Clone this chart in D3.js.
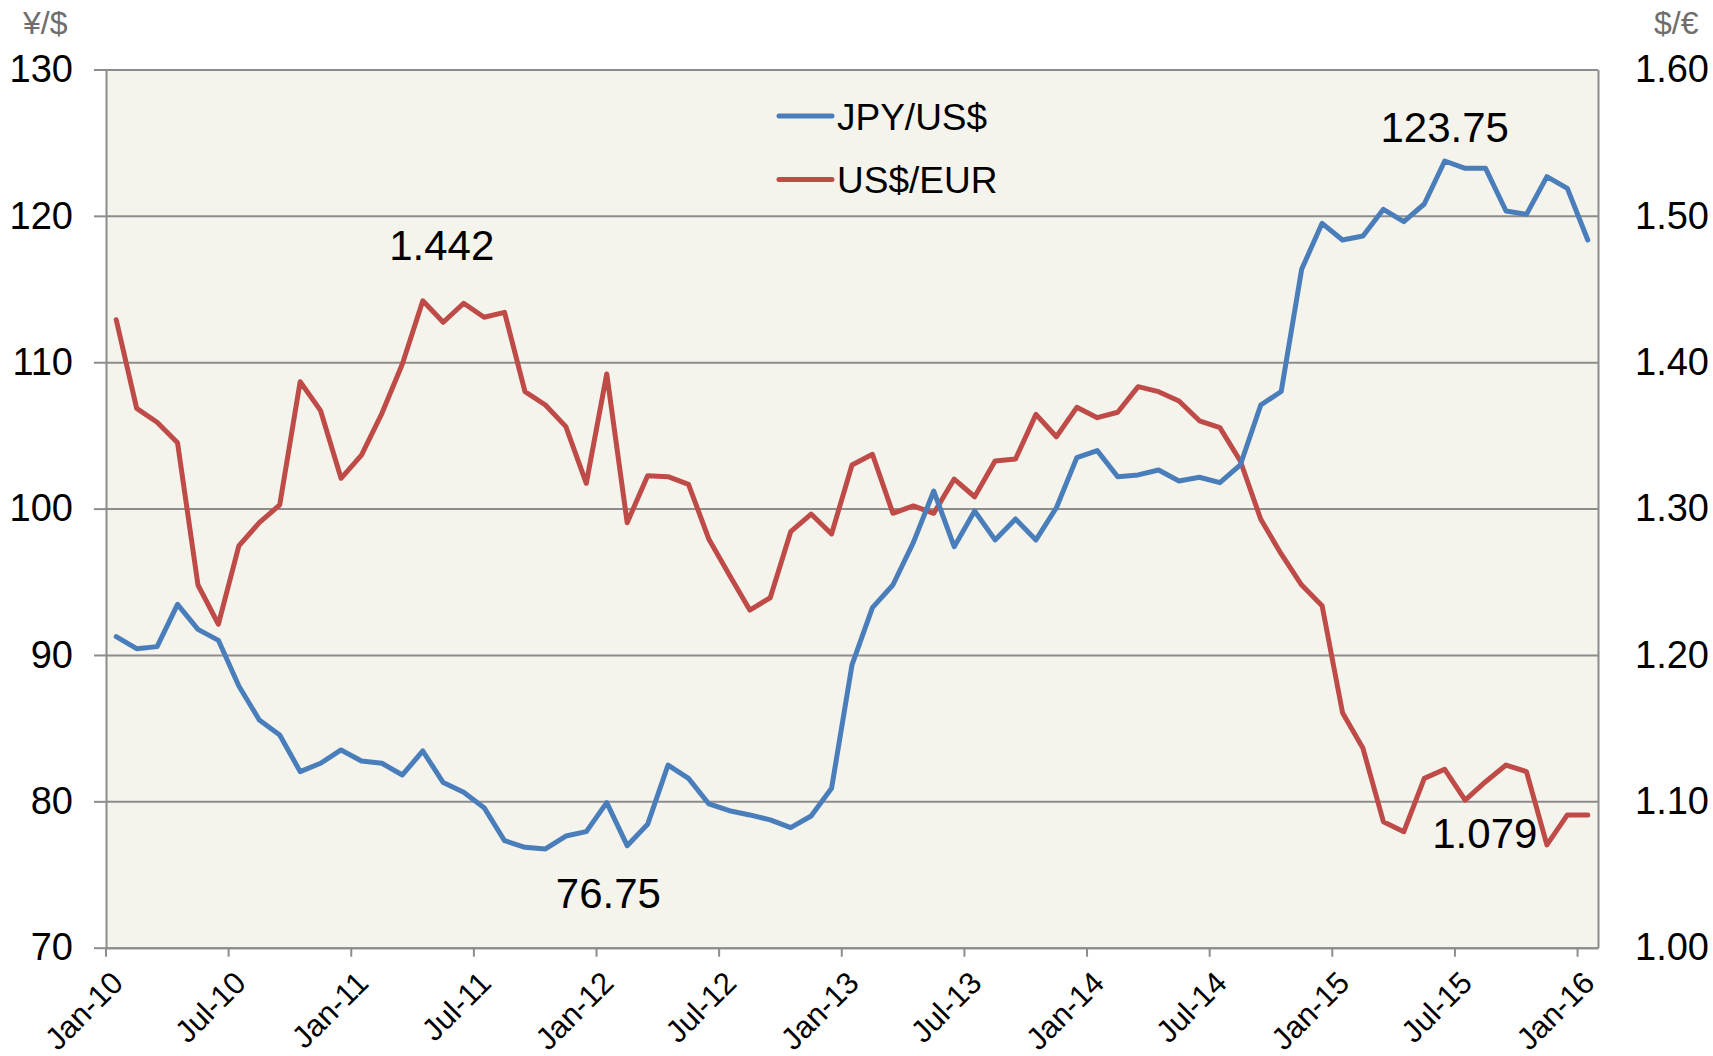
<!DOCTYPE html>
<html>
<head>
<meta charset="utf-8">
<script src="https://cdn.jsdelivr.net/npm/d3@7"></script>
<style>
  body { margin: 0; background: #fff; }
  svg text { font-family: "Liberation Sans", Arial, sans-serif; fill: #000; }
</style>
</head>
<body>
<svg id="chart" width="1713" height="1056"></svg>
<script>
// monthly categories Jan-2010 .. Jan-2016
var months = d3.timeMonth.range(new Date(2010, 0, 1), new Date(2016, 1, 1));
var tickLabels = ["Jan-10", "Jul-10", "Jan-11", "Jul-11", "Jan-12", "Jul-12", "Jan-13",
                  "Jul-13", "Jan-14", "Jul-14", "Jan-15", "Jul-15", "Jan-16"];
var leftTicks = [70, 80, 90, 100, 110, 120, 130];
var rightTicks = [1.00, 1.10, 1.20, 1.30, 1.40, 1.50, 1.60];

// JPY per US$
var jpy = [91.25, 90.43, 90.57, 93.46, 91.75, 91.0, 87.88, 85.56, 84.53, 82.03, 82.6, 83.51,
           82.76, 82.6, 81.8, 83.44, 81.28, 80.62, 79.57, 77.31, 76.86, 76.75, 77.63, 77.93,
           79.91, 76.97, 78.43, 82.48, 81.57, 79.82, 79.36, 79.07, 78.73, 78.2, 79.0, 80.89,
           89.32, 93.23, 94.78, 97.67, 101.2, 97.4, 99.84, 97.86, 99.29, 97.86, 100.06, 103.48,
           103.96, 102.18, 102.3, 102.64, 101.89, 102.14, 101.77, 102.98, 107.08, 108.0, 116.35, 119.49,
           118.35, 118.62, 120.45, 119.6, 120.81, 123.75, 123.25, 123.25, 120.33, 120.1, 122.68, 121.88,
           118.35];
// US$ per EUR
var eur = [1.429, 1.3685, 1.359, 1.345, 1.2478, 1.221, 1.2745, 1.2904, 1.3025, 1.3867, 1.3669, 1.3207,
           1.3366, 1.3651, 1.3988, 1.442, 1.4273, 1.4403, 1.4307, 1.4341, 1.3799, 1.3708, 1.356, 1.3173,
           1.392, 1.2904, 1.3225, 1.3218, 1.3166, 1.279, 1.2546, 1.2307, 1.2391, 1.2842, 1.2963, 1.2827,
           1.3298, 1.3371, 1.2968, 1.3018, 1.2968, 1.3202, 1.3081, 1.3325, 1.3339, 1.3644, 1.3491, 1.3692,
           1.3621, 1.3658, 1.3833, 1.3799, 1.3735, 1.36, 1.3553, 1.3325, 1.2927, 1.269, 1.2478, 1.2337,
           1.1606, 1.1362, 1.0861, 1.0793, 1.1157, 1.1219, 1.1009, 1.1134, 1.1248, 1.1203, 1.0702, 1.0907,
           1.0907];

var seriesNames = ["JPY/US$", "US$/EUR"];
var blue = "#4a7ebb", red = "#be4b48", gridColor = "#8c8c8c";

var svg = d3.select("#chart");
var plotL = 106, plotR = 1598, plotT = 69.5, plotB = 947.7;

var x = d3.scaleBand().domain(months).range([plotL, plotR]).padding(0);
var yL = d3.scaleLinear().domain([70, 130]).range([plotB, plotT]);
var yR = d3.scaleLinear().domain([1.0, 1.6]).range([plotB, plotT]);
var cx = function(i) { return x(months[i]) + x.bandwidth() / 2; };

// plot background
svg.append("rect")
  .attr("x", plotL).attr("y", plotT)
  .attr("width", plotR - plotL).attr("height", plotB - plotT)
  .attr("fill", "#f4f3ec");

// gridlines
var grid = svg.append("g").attr("transform", "translate(" + plotL + ",0)")
  .call(d3.axisLeft(yL).tickValues(leftTicks).tickSize(-(plotR - plotL)).tickFormat(""));
grid.select(".domain").remove();
grid.selectAll("line").attr("stroke", gridColor).attr("stroke-width", 2);

// left axis
var axL = svg.append("g").attr("transform", "translate(" + plotL + ",0)")
  .call(d3.axisLeft(yL).tickValues(leftTicks).tickSize(12).tickPadding(21).tickSizeOuter(0));
axL.select(".domain").attr("stroke", gridColor).attr("stroke-width", 2);
axL.selectAll("line").attr("stroke", gridColor).attr("stroke-width", 2);
axL.selectAll("text").attr("font-size", 38).attr("fill", "#000");

// right axis (labels only)
var axR = svg.append("g").attr("transform", "translate(" + plotR + ",0)")
  .call(d3.axisRight(yR).tickValues(rightTicks).tickSize(0).tickPadding(37).tickFormat(d3.format(".2f")));
axR.select(".domain").attr("stroke", gridColor).attr("stroke-width", 2);
axR.selectAll("text").attr("font-size", 38).attr("fill", "#000");

// bottom axis
var tickMonths = months.filter(function(d, i) { return i % 6 === 0; });
var axB = svg.append("g").attr("transform", "translate(0," + plotB + ")")
  .call(d3.axisBottom(x).tickValues(tickMonths).tickSize(9).tickSizeOuter(0)
    .tickFormat(function(d, i) { return tickLabels[i]; }));
axB.select(".domain").attr("stroke", gridColor).attr("stroke-width", 2);
axB.selectAll(".tick").attr("transform", function(d) { return "translate(" + x(d) + ",0)"; });
axB.selectAll("line").attr("stroke", gridColor).attr("stroke-width", 2);
axB.selectAll("text")
  .attr("font-size", 31)
  .attr("text-anchor", "end")
  .attr("dy", 0)
  .attr("y", 0)
  .attr("transform", "translate(19,37) rotate(-45)");

// axis unit labels
svg.append("text").attr("x", 23).attr("y", 34).attr("font-size", 32)
  .style("fill", "#6e6e6e").text("¥/$");
svg.append("text").attr("x", 1654).attr("y", 34).attr("font-size", 32)
  .style("fill", "#6e6e6e").text("$/€");

// lines
var lineL = d3.line().x(function(d, i) { return cx(i); }).y(function(d) { return yL(d); });
var lineR = d3.line().x(function(d, i) { return cx(i); }).y(function(d) { return yR(d); });

svg.append("path").datum(eur).attr("d", lineR)
  .attr("fill", "none").attr("stroke", red).attr("stroke-width", 5)
  .attr("stroke-linejoin", "round").attr("stroke-linecap", "round");
svg.append("path").datum(jpy).attr("d", lineL)
  .attr("fill", "none").attr("stroke", blue).attr("stroke-width", 5)
  .attr("stroke-linejoin", "round").attr("stroke-linecap", "round");

// annotations
var jMax = d3.maxIndex(jpy), jMin = d3.minIndex(jpy);
var eMax = d3.maxIndex(eur), eLast = 63;
var notes = [
  { x: cx(jMax), y: yL(jpy[jMax]) - 19, t: jpy[jMax].toFixed(2) },
  { x: cx(jMin) + 63, y: yL(jpy[jMin]) + 59, t: jpy[jMin].toFixed(2) },
  { x: cx(eMax) + 19, y: yR(eur[eMax]) - 41, t: eur[eMax].toFixed(3) },
  { x: cx(eLast) + 81, y: yR(1.079) + 16, t: "1.079" }
];
svg.selectAll(".note").data(notes).enter().append("text")
  .attr("class", "note")
  .attr("x", function(d) { return d.x; })
  .attr("y", function(d) { return d.y; })
  .attr("text-anchor", "middle")
  .attr("font-size", 42)
  .text(function(d) { return d.t; });

// legend
var legend = svg.append("g");
[blue, red].forEach(function(c, i) {
  var ly = 116 + i * 63.5;
  legend.append("line").attr("x1", 779).attr("x2", 832).attr("y1", ly).attr("y2", ly)
    .attr("stroke", c).attr("stroke-width", 5).attr("stroke-linecap", "round");
  legend.append("text").attr("x", 837).attr("y", ly + 13.5).attr("font-size", 37)
    .text(seriesNames[i]);
});
</script>
</body>
</html>
